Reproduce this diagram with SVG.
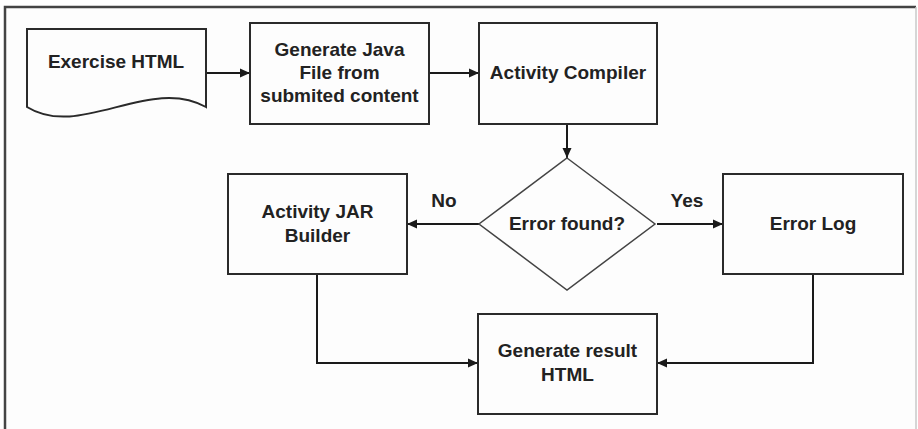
<svg xmlns="http://www.w3.org/2000/svg" width="918" height="429" viewBox="0 0 918 429">
  <defs>
    <marker id="arrow" viewBox="0 0 10 10" refX="10" refY="5" markerWidth="10" markerHeight="10" markerUnits="userSpaceOnUse" orient="auto">
      <path d="M0,0.5 L10,5 L0,9.5 Z" fill="#1a1a1a"/>
    </marker>
  </defs>
  <style>
    .shape { fill: #fdfdfd; stroke: #2a2a2a; stroke-width: 2; }
    .diamond { fill: #fdfdfd; stroke: #444; stroke-width: 1.5; }
    .label { font-family: "Liberation Sans", Arial, sans-serif; font-weight: bold; font-size: 19px; fill: #222; text-anchor: middle; }
    .edge { fill: none; stroke: #1a1a1a; stroke-width: 2; }
  </style>

  <!-- canvas -->
  <rect x="0" y="0" width="918" height="429" fill="#ffffff"/>
  <rect x="5" y="7" width="911" height="430" fill="#fdfdfd" stroke="none"/>
  <path d="M5,437 L5,7 L916,7" fill="none" stroke="#444" stroke-width="2.5"/>
  <path d="M916,7 L916,437" fill="none" stroke="#c8c8c8" stroke-width="1.5"/>

  <g id="connectors">
    <line class="edge" x1="206" y1="73" x2="250" y2="73" marker-end="url(#arrow)"/>
    <line class="edge" x1="429" y1="73" x2="479" y2="73" marker-end="url(#arrow)"/>
    <line class="edge" x1="567" y1="124" x2="567" y2="158" marker-end="url(#arrow)"/>
    <line class="edge" x1="480" y1="224" x2="407" y2="224" marker-end="url(#arrow)"/>
    <line class="edge" x1="657" y1="224" x2="723" y2="224" marker-end="url(#arrow)"/>
    <polyline class="edge" points="317,274 317,363 478,363" marker-end="url(#arrow)"/>
    <polyline class="edge" points="813,274 813,363 657,363" marker-end="url(#arrow)"/>
    <text class="label" x="444" y="207">No</text>
    <text class="label" x="687" y="207">Yes</text>
  </g>

  <g id="exercise-html">
    <path class="shape" d="M27,29 L206,29 L206,107 C150,75 80,140 27,107 Z"/>
    <text class="label" x="116" y="68">Exercise HTML</text>
  </g>

  <g id="generate-java">
    <rect class="shape" x="250" y="23" width="179" height="101"/>
    <text class="label" x="339.5" y="56">Generate Java</text>
    <text class="label" x="339.5" y="79">File from</text>
    <text class="label" x="339.5" y="102">submited content</text>
  </g>

  <g id="activity-compiler">
    <rect class="shape" x="479" y="23" width="178" height="101"/>
    <text class="label" x="568" y="79">Activity Compiler</text>
  </g>

  <g id="error-found">
    <polygon class="diamond" points="567,158 655,224 567,290 479,224"/>
    <text class="label" x="567" y="230">Error found?</text>
  </g>

  <g id="activity-jar-builder">
    <rect class="shape" x="228" y="174" width="179" height="100"/>
    <text class="label" x="317.5" y="218">Activity JAR</text>
    <text class="label" x="317.5" y="242">Builder</text>
  </g>

  <g id="error-log">
    <rect class="shape" x="723" y="174" width="180" height="100"/>
    <text class="label" x="813" y="230">Error Log</text>
  </g>

  <g id="generate-result">
    <rect class="shape" x="478" y="314" width="179" height="100"/>
    <text class="label" x="567.5" y="357">Generate result</text>
    <text class="label" x="567.5" y="381">HTML</text>
  </g>
</svg>
